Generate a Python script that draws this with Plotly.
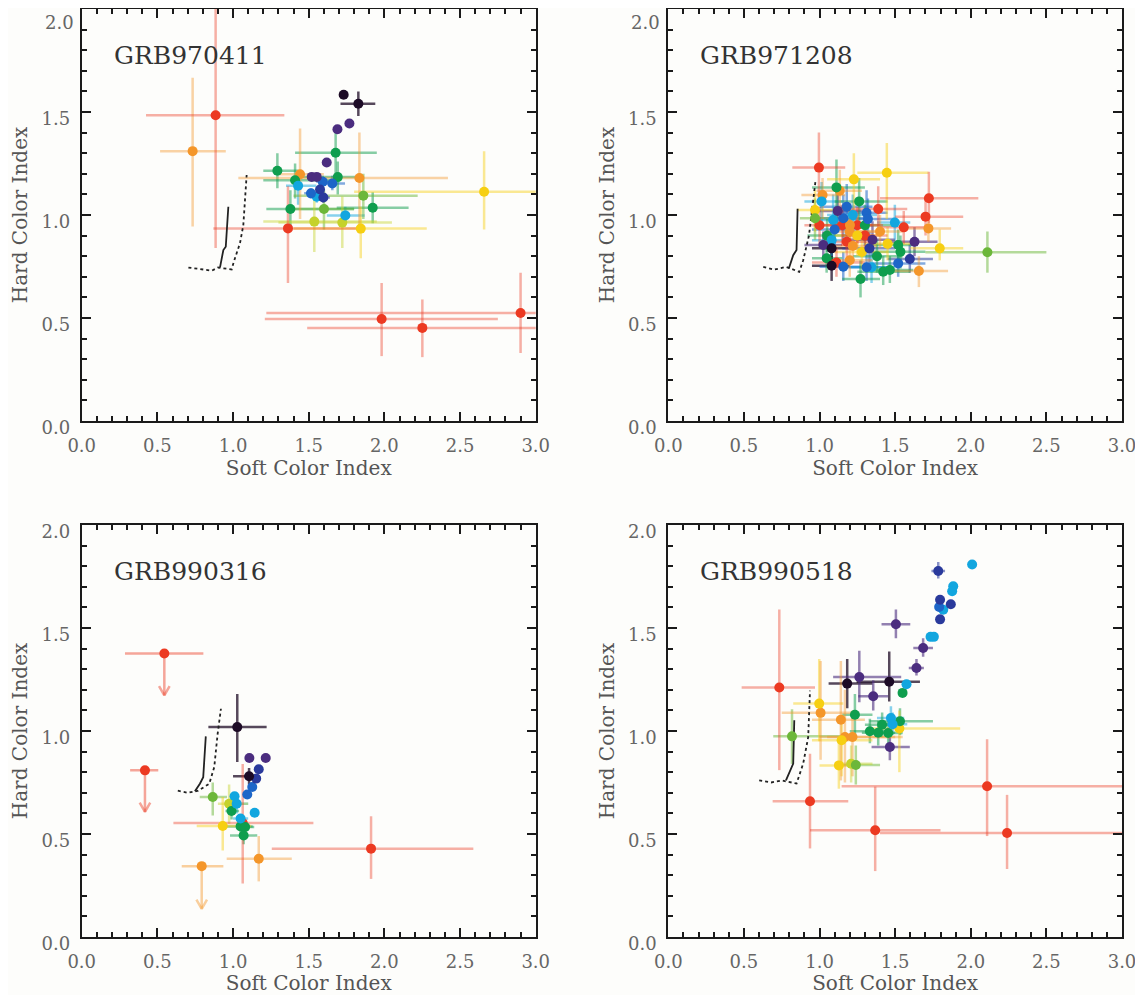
import plotly.graph_objects as go

# ---------------- data ----------------
grb_names = ["GRB970411", "GRB971208", "GRB990316", "GRB990518"]
x_title = "Soft Color Index"
y_title = "Hard Color Index"
x_ticks = [0.0, 0.5, 1.0, 1.5, 2.0, 2.5, 3.0]
y_ticks = [0.0, 0.5, 1.0, 1.5, 2.0]

# time bins: 0 = earliest (black) ... 10 = latest (red)
# Panel 1 : GRB970411
p1_x   = [0.885,0.733,1.363,1.982,2.251,2.900,2.659,1.835,1.844,1.861, 1.923,1.742,1.722,1.537,1.601,1.379,1.293,1.410,1.443,1.430,
          1.520,1.553,1.593,1.656,1.575,1.515,1.553,1.597,1.692,1.678, 1.619,1.690,1.769,1.731,1.828]
p1_y   = [1.484,1.310,0.935,0.495,0.452,0.524,1.113,1.180,0.934,1.094, 1.035,0.998,0.963,0.968,1.029,1.029,1.215,1.169,1.198,1.142,
          1.185,1.185,1.161,1.153,1.124,1.105,1.089,1.085,1.184,1.302, 1.255,1.416,1.444,1.584,1.540]
p1_xlo = [0.425,0.518,0.870,1.210,1.490,1.220,1.800,1.035,1.400,1.400, 1.685,1.620,1.300,1.200,1.400,1.220,1.200,1.200,1.300,1.350,
          1.500,1.530,1.550,1.580,1.550,1.470,1.500,1.560,1.450,1.410, 1.600,1.670,1.750,1.700,1.710]
p1_xhi = [1.339,0.952,1.840,2.750,3.050,3.100,3.100,2.420,2.280,2.220, 2.160,1.870,2.050,1.950,1.800,1.800,1.430,1.650,1.600,1.550,
          1.540,1.580,1.640,1.740,1.600,1.560,1.610,1.640,1.850,1.950, 1.640,1.710,1.790,1.760,1.940]
p1_ylo = [0.840,0.944,0.670,0.315,0.310,0.330,0.930,0.910,0.790,0.980, 0.960,0.960,0.840,0.820,0.930,0.930,1.130,1.080,0.980,1.050,
          1.170,1.170,1.130,1.120,1.100,1.080,1.060,1.060,1.100,1.200, 1.240,1.400,1.430,1.570,1.480]
p1_yhi = [2.300,1.666,1.140,0.670,0.590,0.720,1.310,1.400,1.040,1.200, 1.110,1.040,1.090,1.100,1.120,1.120,1.300,1.250,1.420,1.200,
          1.200,1.200,1.190,1.190,1.150,1.130,1.110,1.110,1.260,1.430, 1.270,1.430,1.460,1.600,1.600]
p1_bin = [10,9,10,10,10,10,8,9,8,6, 5,4,7,7,6,5,5,5,9,4, 1,1,3,3,2,3,4,2,5,5, 1,1,1,0,0]
p1_solid_x = [0.914,0.936,0.952,0.969]
p1_solid_y = [0.746,0.830,0.846,1.040]
p1_dot_x = [0.705,0.790,0.860,0.900,0.991,1.009,1.046,1.068,1.079,1.090]
p1_dot_y = [0.745,0.735,0.730,0.745,0.736,0.782,0.863,0.951,1.092,1.194]

# Panel 2 : GRB971208
p2_x = [0.996,1.445,1.227,1.112,1.134,1.020,1.262,1.014,1.723,1.388, 1.180,0.970,0.970,1.090,1.157,1.311,1.701,1.498,1.557,1.720,
        1.201,1.628,1.080,1.025,1.080,1.330,1.520,1.795,2.110,1.535, 1.597,1.520,1.112,1.080,1.157,1.311,1.344,1.421,1.465,1.657,
        1.271,1.047,1.150,1.200,1.250,1.300,1.100,1.350,1.180,1.280, 1.220,1.050,1.400,1.320,1.120,1.250,1.450,1.380,1.200,1.000,
        1.300,1.220]
p2_y = [1.230,1.205,1.173,1.134,1.118,1.097,1.066,1.066,1.081,1.029, 1.040,1.024,0.984,0.976,0.984,1.011,0.992,0.963,0.940,0.935,
        0.951,0.870,0.878,0.854,0.838,0.838,0.854,0.838,0.819,0.822, 0.786,0.765,0.769,0.754,0.749,0.746,0.746,0.725,0.733,0.728,
        0.689,0.790,0.950,0.920,0.900,0.950,0.930,0.880,0.870,0.820, 1.000,0.900,0.920,0.980,1.020,0.950,0.860,0.800,0.780,0.950,
        0.900,0.850]
p2_xlo = [0.82,1.25,1.05,0.95,0.98,0.88,1.10,0.90,1.40,1.20, 1.00,0.85,0.87,0.95,1.00,1.15,1.50,1.38,1.40,1.55,
          1.00,1.45,0.95,0.90,0.95,1.15,1.35,1.60,1.70,1.35, 1.45,1.35,0.95,0.95,1.00,1.15,1.20,1.25,1.30,1.45,
          1.15,0.95,1.00,1.05,1.10,1.12,0.95,1.20,1.02,1.10, 1.05,0.92,1.25,1.15,0.98,1.08,1.30,1.22,1.05,0.90,
          1.15,1.08]
p2_xhi = [1.17,1.72,1.40,1.30,1.28,1.17,1.45,1.15,2.05,1.58, 1.35,1.10,1.10,1.25,1.30,1.45,1.95,1.60,1.72,1.87,
          1.40,1.78,1.20,1.15,1.20,1.50,1.65,1.95,2.50,1.70, 1.75,1.70,1.30,1.20,1.30,1.45,1.50,1.60,1.62,1.85,
          1.40,1.15,1.35,1.40,1.40,1.48,1.25,1.50,1.35,1.45, 1.38,1.20,1.55,1.50,1.28,1.42,1.60,1.55,1.35,1.12,
          1.45,1.38]
p2_ylo = [1.05,0.98,1.02,0.95,1.00,0.98,0.95,0.95,0.96,0.92, 0.90,0.92,0.88,0.86,0.88,0.90,0.90,0.88,0.86,0.87,
          0.85,0.80,0.80,0.80,0.78,0.76,0.78,0.78,0.72,0.74, 0.72,0.70,0.70,0.68,0.68,0.68,0.67,0.66,0.67,0.65,
          0.60,0.72,0.85,0.83,0.80,0.85,0.84,0.80,0.78,0.74, 0.90,0.82,0.84,0.88,0.93,0.86,0.78,0.72,0.70,0.86,
          0.82,0.78]
p2_yhi = [1.40,1.35,1.30,1.27,1.22,1.18,1.18,1.16,1.21,1.14, 1.15,1.12,1.08,1.10,1.10,1.12,1.08,1.05,1.02,1.00,
          1.06,0.94,0.96,0.92,0.90,0.92,0.93,0.93,0.92,0.90, 0.86,0.84,0.84,0.83,0.82,0.82,0.82,0.80,0.80,0.80,
          0.78,0.86,1.05,1.02,1.00,1.05,1.03,0.97,0.96,0.90, 1.10,0.98,1.00,1.08,1.10,1.04,0.94,0.88,0.86,1.04,
          0.98,0.92]
p2_bin = [10,8,8,5,9,9,5,4,10,10, 3,8,6,4,3,3,10,4,10,9, 9,1,4,1,0,2,5,8,6,5, 2,3,10,0,3,3,4,5,5,9,
          5,5,10,9,8,5,3,1,10,8, 4,5,9,3,1,10,8,5,9,10, 10,9]
p2_solid_x = [0.797,0.826,0.848,0.855]
p2_solid_y = [0.740,0.805,0.830,1.030]
p2_dot_x = [0.628,0.700,0.780,0.866,0.892,0.930,0.958,0.974]
p2_dot_y = [0.748,0.735,0.748,0.724,0.780,0.900,1.070,1.170]

# Panel 3 : GRB990316
p3_x   = [1.912,1.170,1.064,1.028,1.106,1.108,1.216,1.170,1.153,1.127, 1.094,1.143,1.010,1.024,0.990,0.974,0.866,0.932,1.050,1.050,
          1.080,1.070]
p3_y   = [0.429,0.380,0.553,1.019,0.780,0.869,0.869,0.814,0.769,0.728, 0.692,0.603,0.683,0.647,0.612,0.647,0.680,0.539,0.575,0.537,
          0.534,0.493]
p3_xlo = [1.256,0.958,0.606,0.837,1.000,1.090,1.200,1.150,1.140,1.110, 1.080,1.130,1.000,0.950,0.950,0.900,0.780,0.760,1.000,0.950,
          1.020,0.980]
p3_xhi = [2.588,1.388,1.531,1.222,1.130,1.130,1.230,1.190,1.170,1.140, 1.110,1.160,1.030,1.100,1.040,1.100,0.960,1.120,1.100,1.130,
          1.140,1.160]
p3_ylo = [0.282,0.270,0.260,0.850,0.740,0.850,0.850,0.800,0.750,0.710, 0.680,0.590,0.670,0.600,0.570,0.550,0.590,0.420,0.560,0.500,
          0.500,0.450]
p3_yhi = [0.586,0.490,0.840,1.180,0.820,0.890,0.890,0.830,0.790,0.750, 0.710,0.620,0.700,0.700,0.660,0.740,0.750,0.680,0.590,0.570,
          0.570,0.540]
p3_bin = [10,9,10,0,0,1,1,2,2,3, 3,4,4,4,5,7,6,8,4,5, 5,5]
# upper limits (arrows)
p3_ul_x    = [0.546,0.418,0.793]
p3_ul_y    = [1.376,0.809,0.344]
p3_ul_xlo  = [0.286,0.320,0.661]
p3_ul_xhi  = [0.804,0.506,0.936]
p3_ul_yend = [1.173,0.607,0.137]
p3_ul_bin  = [10,10,9]
p3_solid_x = [0.748,0.781,0.803,0.820]
p3_solid_y = [0.708,0.744,0.776,0.974]
p3_dot_x = [0.635,0.700,0.770,0.843,0.876,0.898,0.920]
p3_dot_y = [0.710,0.700,0.710,0.744,0.825,0.985,1.108]

# Panel 4 : GRB990518
p4_x   = [2.009,1.785,1.884,1.877,1.797,1.791,1.818,1.868,1.797,1.505, 1.734,1.756,1.685,1.641,1.575,1.549,1.183,1.263,1.461,1.355,
          1.465,0.734,0.937,1.368,2.108,2.240,0.998,1.007,1.141,1.168, 1.218,1.146,0.818,1.128,1.209,1.240,1.234,1.333,1.388,1.454,
          1.414,1.472,1.483,1.532,1.528]
p4_y   = [1.808,1.777,1.703,1.678,1.637,1.602,1.589,1.615,1.542,1.518, 1.457,1.457,1.403,1.306,1.227,1.185,1.230,1.262,1.239,1.169,
          0.922,1.211,0.659,0.518,0.732,0.505,1.133,1.088,1.055,0.971, 0.971,0.955,0.974,0.833,0.841,0.835,1.079,0.999,0.992,0.990,
          1.030,1.063,1.033,1.047,1.012]
p4_xlo = [2.000,1.740,1.870,1.860,1.780,1.780,1.800,1.850,1.780,1.410, 1.720,1.740,1.620,1.590,1.560,1.530,1.060,1.090,1.245,1.256,
          1.344,0.485,0.690,0.937,1.146,1.400,0.826,0.750,0.950,1.000, 1.050,0.950,0.694,1.000,1.100,1.120,1.150,1.200,1.280,1.350,
          1.300,1.380,1.400,1.330,1.355]
p4_xhi = [2.020,1.830,1.900,1.890,1.810,1.800,1.830,1.880,1.810,1.600, 1.750,1.770,1.750,1.690,1.590,1.560,1.350,1.540,1.664,1.454,
          1.597,0.970,1.190,1.800,3.100,3.100,1.157,1.220,1.300,1.550, 1.500,1.350,1.135,1.250,1.350,1.400,1.350,1.450,1.500,1.550,
          1.550,1.560,1.580,1.750,1.930]
p4_ylo = [1.800,1.740,1.690,1.660,1.620,1.590,1.570,1.600,1.530,1.450, 1.440,1.440,1.360,1.270,1.210,1.170,1.110,1.140,1.143,1.100,
          0.858,0.810,0.430,0.320,0.490,0.330,0.950,0.860,0.760,0.750, 0.780,0.780,0.840,0.720,0.750,0.740,0.980,0.940,0.930,0.930,
          0.970,1.000,0.980,0.980,0.800]
p4_yhi = [1.820,1.820,1.720,1.690,1.660,1.620,1.600,1.630,1.560,1.590, 1.470,1.470,1.450,1.350,1.240,1.200,1.350,1.390,1.386,1.246,
          0.988,1.590,0.890,0.730,0.960,0.690,1.350,1.340,1.340,1.200, 1.100,1.080,1.105,0.950,0.930,0.930,1.180,1.060,1.050,1.050,
          1.090,1.120,1.090,1.110,1.100]
p4_bin = [4,2,4,4,2,3,4,2,2,1, 4,4,1,1,4,5,0,1,0,1, 1,10,10,10,10,10,8,9,9,9, 9,8,6,8,7,6,5,5,5,5, 5,4,4,5,8]
p4_solid_x = [0.778,0.800,0.826,0.833]
p4_solid_y = [0.760,0.800,0.842,1.052]
p4_dot_x = [0.601,0.680,0.750,0.848,0.892,0.925,0.937]
p4_dot_y = [0.760,0.750,0.760,0.745,0.842,0.970,1.196]

# ---------------- styling ----------------
PALETTE = ['#1d0b26', '#4b2d7f', '#2a3a9c', '#1d66c8', '#12a6df', '#0f9e4e',
           '#6cb73a', '#c5d22c', '#f6cf12', '#f4962a', '#ec3a22']
BAR_ALPHA = [0.75, 0.6, 0.55, 0.55, 0.5, 0.5, 0.5, 0.45, 0.45, 0.42, 0.4]


def rgba(hexc, a):
    h = hexc.lstrip('#')
    r, g, b = int(h[0:2], 16), int(h[2:4], 16), int(h[4:6], 16)
    return f'rgba({r},{g},{b},{a})'


# the page body has an 8px margin, so the figure is 8px smaller and shifted
W, H = 1135, 987
col_px = [(73.7, 527.7), (660.3, 1114.0)]
row_px = [(1.0, 413.0), (517.0, 929.0)]

panels = [
    (p1_x, p1_y, p1_xlo, p1_xhi, p1_ylo, p1_yhi, p1_bin, p1_solid_x, p1_solid_y, p1_dot_x, p1_dot_y),
    (p2_x, p2_y, p2_xlo, p2_xhi, p2_ylo, p2_yhi, p2_bin, p2_solid_x, p2_solid_y, p2_dot_x, p2_dot_y),
    (p3_x, p3_y, p3_xlo, p3_xhi, p3_ylo, p3_yhi, p3_bin, p3_solid_x, p3_solid_y, p3_dot_x, p3_dot_y),
    (p4_x, p4_y, p4_xlo, p4_xhi, p4_ylo, p4_yhi, p4_bin, p4_solid_x, p4_solid_y, p4_dot_x, p4_dot_y),
]

FONT = 'DejaVu Serif'
TICKFONT = dict(family=FONT, size=18, color='#666666')
fig = go.Figure()
layout = dict(width=W, height=H, margin=dict(l=0, r=0, t=0, b=0), showlegend=False,
              paper_bgcolor='#fdfdfb', plot_bgcolor='#fdfdfb', annotations=[])

for k, (px, py, pxlo, pxhi, pylo, pyhi, pbin, sx, sy, dx, dy) in enumerate(panels):
    r, c = divmod(k, 2)
    sfx = '' if k == 0 else str(k + 1)
    xa, ya = 'x' + sfx, 'y' + sfx
    x0, x1 = col_px[c]
    y0, y1 = row_px[r]
    xdom = [x0 / W, x1 / W]
    ydom = [1 - y1 / H, 1 - y0 / H]
    common = dict(showline=True, linecolor='#1a1a1a', linewidth=2, mirror='ticks',
                  ticks='inside', ticklen=9, tickwidth=2, tickcolor='#1a1a1a',
                  showgrid=False, zeroline=False, automargin=False,
                  ticklabeloverflow='allow',
                  minor=dict(dtick=0.1, ticks='inside', ticklen=5, tickwidth=1.5, tickcolor='#1a1a1a'),
                  tickfont=TICKFONT)
    # top row: the label at the very top is placed just inside the page as a text note
    y_text = [f'{v:.1f}' for v in y_ticks]
    if r == 0:
        y_text[-1] = ''
        layout['annotations'].append(dict(text=f'{y_ticks[-1]:.1f}', xref=xa + ' domain', yref=ya + ' domain',
                                          x=0, y=1, xanchor='right', yanchor='top', xshift=-6, yshift=-1,
                                          showarrow=False, font=TICKFONT))
    layout['xaxis' + sfx] = dict(common, domain=xdom, anchor=ya, range=[0, 3], tickvals=x_ticks,
                                 ticktext=[f'{v:.1f}' for v in x_ticks],
                                 ticklabelstandoff=7,
                                 title=dict(text=x_title, standoff=4,
                                            font=dict(family=FONT, size=20, color='#555555')))
    layout['yaxis' + sfx] = dict(common, domain=ydom, anchor=xa, range=[0, 2], tickvals=y_ticks,
                                 ticktext=y_text,
                                 ticklabelstandoff=6, ticklabelshift=7,
                                 title=dict(text=y_title, standoff=8,
                                            font=dict(family=FONT, size=20, color='#555555')))
    layout['annotations'].append(dict(text=grb_names[k], xref=xa + ' domain', yref=ya + ' domain',
                                      x=0.066, y=0.888, xanchor='left', yanchor='middle', showarrow=False,
                                      font=dict(family=FONT, size=25, color='#333333')))

    # error bars (drawn first)
    for b in range(len(PALETTE)):
        idx = [i for i, v in enumerate(pbin) if v == b]
        if not idx:
            continue
        fig.add_trace(go.Scatter(
            x=[px[i] for i in idx], y=[py[i] for i in idx], mode='markers', xaxis=xa, yaxis=ya,
            marker=dict(size=1, color='rgba(0,0,0,0)'), hoverinfo='skip',
            error_x=dict(type='data', symmetric=False,
                         array=[max(0, pxhi[i] - px[i]) for i in idx],
                         arrayminus=[max(0, px[i] - pxlo[i]) for i in idx],
                         color=rgba(PALETTE[b], BAR_ALPHA[b]), thickness=2.5, width=0),
            error_y=dict(type='data', symmetric=False,
                         array=[max(0, pyhi[i] - py[i]) for i in idx],
                         arrayminus=[max(0, py[i] - pylo[i]) for i in idx],
                         color=rgba(PALETTE[b], BAR_ALPHA[b]), thickness=2.5, width=0)))

    # upper limits in panel 3
    if k == 2:
        for i in range(len(p3_ul_x)):
            col = rgba(PALETTE[p3_ul_bin[i]], 0.45)
            xx, yy, ye = p3_ul_x[i], p3_ul_y[i], p3_ul_yend[i]
            ax_, ay_ = 0.035, 0.045
            fig.add_trace(go.Scatter(
                x=[p3_ul_xlo[i], p3_ul_xhi[i], None, xx, xx, None, xx - ax_, xx, xx + ax_],
                y=[yy, yy, None, yy, ye, None, ye + ay_, ye, ye + ay_],
                mode='lines', xaxis=xa, yaxis=ya, line=dict(color=col, width=2.5), hoverinfo='skip'))

    # model tracks
    fig.add_trace(go.Scatter(x=sx, y=sy, mode='lines', xaxis=xa, yaxis=ya,
                             line=dict(color='#222222', width=1.8), hoverinfo='skip'))
    fig.add_trace(go.Scatter(x=dx, y=dy, mode='lines', xaxis=xa, yaxis=ya,
                             line=dict(color='#222222', width=1.8, dash='dot'), hoverinfo='skip'))

    # markers
    for b in range(len(PALETTE) - 1, -1, -1):
        idx = [i for i, v in enumerate(pbin) if v == b]
        ul_idx = [i for i, v in enumerate(p3_ul_bin) if v == b] if k == 2 else []
        mx = [px[i] for i in idx] + [p3_ul_x[i] for i in ul_idx]
        my = [py[i] for i in idx] + [p3_ul_y[i] for i in ul_idx]
        if not mx:
            continue
        fig.add_trace(go.Scatter(x=mx, y=my, mode='markers', xaxis=xa, yaxis=ya,
                                 marker=dict(size=10, color=PALETTE[b], line=dict(width=0))))

fig.update_layout(**layout)
fig.write_html("out.html")
